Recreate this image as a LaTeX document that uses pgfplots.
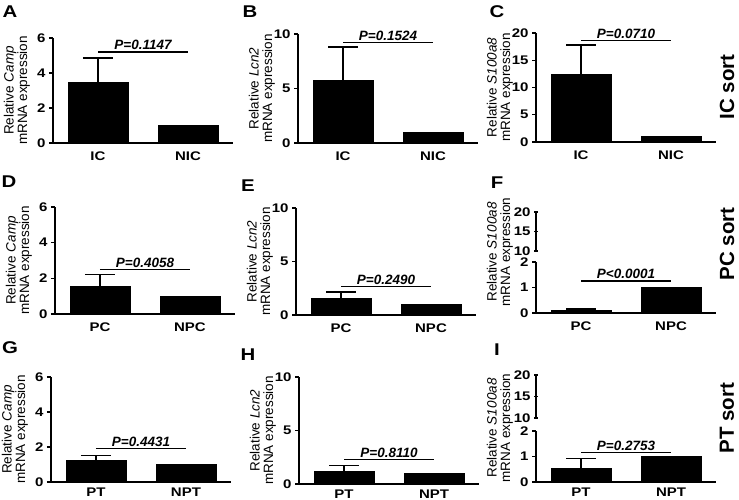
\documentclass[border=0pt]{standalone}
\usepackage{fontspec}
\setmainfont{Liberation Sans}
\newfontfamily\wide{Liberation Sans}[FakeStretch=1.2]
\usepackage{pgfplots}
\pgfplotsset{compat=1.18}

\pgfplotsset{
 panel/.style={
   scale only axis, width=180pt, anchor=south west,
   axis lines=left, axis line style={-, line width=1.4pt, black},
   xmin=0.5, xmax=2.5,
   xtick={1,2}, xtick style={draw=none},
   ytick style={line width=1.2pt, black},
   tick align=outside, major tick length=4pt,
   tick label style={font=\wide\fontsize{12.5}{12.5}\selectfont\bfseries},
   /pgf/number format/assume math mode=true,
   x tick label style={yshift=-1pt},
   every axis y label/.append style={at={([xshift=-36pt]axis description cs:0,0.5)}, anchor=center,
      font=\fontsize{13.5}{13.5}\selectfont, align=center},
   clip=false,
 },
 brk/.style={axis x line=none, axis y line=left, y axis line style={-}},
 bars/.style={ybar, bar width=60pt, fill=black, draw=black,
   error bars/.cd, y dir=plus, y explicit, error mark=|,
   error bar style={line width=1.3pt, black},
   error mark options={line width=1.3pt, mark size=15pt, black}},
 bar0/.style={ybar, bar width=60pt, fill=black, draw=black},
 pline/.style={black, line width=1.3pt, no markers, sharp plot},
 low/.style={x tick label style={yshift=3pt}},
}
\newcommand{\ptext}[1]{\fontsize{13.5}{13.5}\selectfont\bfseries\itshape #1}
\newcommand{\plab}[1]{\wide\fontsize{17}{17}\selectfont\bfseries #1}
\newcommand{\rlab}[1]{\fontsize{20.5}{20.5}\selectfont\bfseries #1}
\newcommand{\ylab}[1]{Relative \textit{#1}\\mRNA expression}

\begin{document}
\begin{tikzpicture}
\path[use as bounding box] (0pt,0pt) rectangle (739pt,500pt);

% ---------- Row 1 ----------
% A
\begin{axis}[panel, at={(53pt,357pt)}, height=105pt, ymin=0, ymax=6, ytick={0,2,4,6},
  xticklabels={IC,NIC}, ylabel={\ylab{Camp}}]
\addplot[bars] coordinates {(1,3.45) +- (0,1.40)};
\addplot[bar0] coordinates {(2,1.0)};
\addplot[pline] coordinates {(1,5.2) (2,5.2)} node[pos=0.5, above, inner sep=1.5pt]{\ptext{P=0.1147}};
\end{axis}
% B
\begin{axis}[panel, at={(298pt,357pt)}, height=109pt, ymin=0, ymax=10, ytick={0,5,10},
  xticklabels={IC,NIC}, ylabel={\ylab{Lcn2}}]
\addplot[bars] coordinates {(1,5.8) +- (0,3.0)};
\addplot[bar0] coordinates {(2,1.0)};
\addplot[pline] coordinates {(1,9.2) (2,9.2)} node[pos=0.5, above, inner sep=1.5pt]{\ptext{P=0.1524}};
\end{axis}
% C
\begin{axis}[panel, at={(536pt,358pt)}, height=109pt, ymin=0, ymax=20, ytick={0,5,10,15,20},
  xticklabels={IC,NIC}, ylabel={\ylab{S100a8}}]
\addplot[bars] coordinates {(1,12.4) +- (0,5.4)};
\addplot[bar0] coordinates {(2,1.0)};
\addplot[pline] coordinates {(1,18.6) (2,18.6)} node[pos=0.5, above, inner sep=1.5pt]{\ptext{P=0.0710}};
\end{axis}

% ---------- Row 2 ----------
% D
\begin{axis}[panel, at={(55pt,186pt)}, height=107pt, ymin=0, ymax=6, ytick={0,2,4,6},
  xticklabels={PC,NPC}, ylabel={\ylab{Camp}}]
\addplot[bars] coordinates {(1,1.57) +- (0,0.63)};
\addplot[bar0] coordinates {(2,1.0)};
\addplot[pline] coordinates {(1,2.5) (2,2.5)} node[pos=0.5, above, inner sep=1.5pt]{\ptext{P=0.4058}};
\end{axis}
% E
\begin{axis}[panel, at={(296pt,185pt)}, height=107pt, ymin=0, ymax=10, ytick={0,5,10},
  xticklabels={PC,NPC}, ylabel={\ylab{Lcn2}}]
\addplot[bars] coordinates {(1,1.56) +- (0,0.59)};
\addplot[bar0] coordinates {(2,1.0)};
\addplot[pline] coordinates {(1,2.65) (2,2.65)} node[pos=0.5, above, inner sep=1.5pt]{\ptext{P=0.2490}};
\end{axis}
% F (broken axis)
\begin{axis}[panel, brk, at={(536pt,249pt)}, height=39pt, ymin=10, ymax=20, ytick={10,15,20}]
\end{axis}
\begin{axis}[panel, at={(536pt,187pt)}, height=51pt, ymin=0, ymax=2, ytick={0,1,2},
  xticklabels={PC,NPC}]
\addplot[bars] coordinates {(1,0.09) +- (0,0.07)};
\addplot[bar0] coordinates {(2,1.0)};
\addplot[pline] coordinates {(1,1.25) (2,1.25)} node[pos=0.5, above, inner sep=1.5pt]{\ptext{P<0.0001}};
\end{axis}
\node[rotate=90, align=center, font=\fontsize{13.5}{13.5}\selectfont] at (500pt,248pt) {\ylab{S100a8}};

% ---------- Row 3 ----------
% G
\begin{axis}[panel, low, at={(51pt,18pt)}, height=105pt, ymin=0, ymax=6, ytick={0,2,4,6},
  xticklabels={PT,NPT}, ylabel={\ylab{Camp}}]
\addplot[bars] coordinates {(1,1.25) +- (0,0.27)};
\addplot[bar0] coordinates {(2,1.0)};
\addplot[pline] coordinates {(1,1.9) (2,1.9)} node[pos=0.5, above, inner sep=1.5pt]{\ptext{P=0.4431}};
\end{axis}
% H
\begin{axis}[panel, low, at={(299pt,16pt)}, height=107pt, ymin=0, ymax=10, ytick={0,5,10},
  xticklabels={PT,NPT}, ylabel={\ylab{Lcn2}}]
\addplot[bars] coordinates {(1,1.15) +- (0,0.55)};
\addplot[bar0] coordinates {(2,1.0)};
\addplot[pline] coordinates {(1,2.3) (2,2.3)} node[pos=0.5, above, inner sep=1.5pt]{\ptext{P=0.8110}};
\end{axis}
% I (broken axis)
\begin{axis}[panel, brk, at={(536pt,82pt)}, height=43pt, ymin=10, ymax=20, ytick={10,15,20}]
\end{axis}
\begin{axis}[panel, low, at={(536pt,18pt)}, height=51pt, ymin=0, ymax=2, ytick={0,1,2},
  xticklabels={PT,NPT}]
\addplot[bars] coordinates {(1,0.54) +- (0,0.38)};
\addplot[bar0] coordinates {(2,1.0)};
\addplot[pline] coordinates {(1,1.16) (2,1.16)} node[pos=0.5, above, inner sep=1.5pt]{\ptext{P=0.2753}};
\end{axis}
\node[rotate=90, align=center, font=\fontsize{13.5}{13.5}\selectfont] at (500pt,72pt) {\ylab{S100a8}};

% ---------- Panel letters ----------
\node at (10pt,488pt) {\plab{A}};
\node at (250pt,488pt) {\plab{B}};
\node at (497pt,488pt) {\plab{C}};
\node at (9pt,318pt) {\plab{D}};
\node at (248pt,314pt) {\plab{E}};
\node at (497pt,317pt) {\plab{F}};
\node at (10pt,152pt) {\plab{G}};
\node at (248pt,145pt) {\plab{H}};
\node at (497pt,150pt) {\plab{I}};

% ---------- Row labels ----------
\node[rotate=90] at (727pt,413pt) {\rlab{IC sort}};
\node[rotate=90] at (727pt,256pt) {\rlab{PC sort}};
\node[rotate=90] at (727pt,82pt) {\rlab{PT sort}};
\end{tikzpicture}
\end{document}
